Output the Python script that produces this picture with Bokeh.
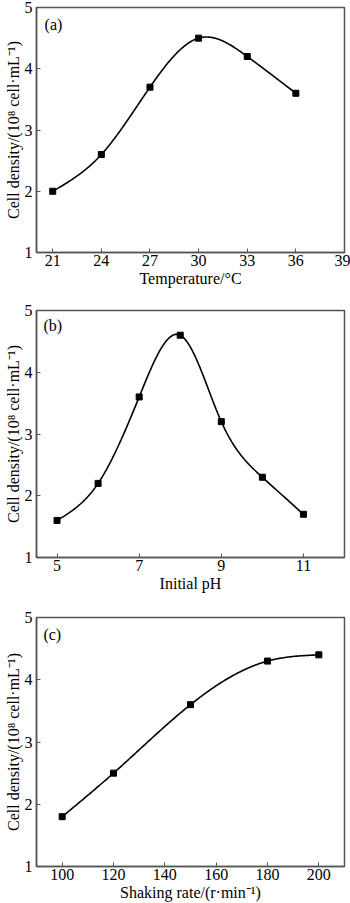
import numpy as np
from bokeh.plotting import figure
from bokeh.layouts import column
from bokeh.models import Range1d, FixedTicker, Label
from bokeh.embed import file_html
from bokeh.resources import INLINE

# ---- data ----
temp_x = [21, 24, 27, 30, 33, 36]
temp_y = [2.0, 2.6, 3.7, 4.5, 4.2, 3.6]
ph_x = [5, 6, 7, 8, 9, 10, 11]
ph_y = [1.6, 2.2, 3.6, 4.6, 3.2, 2.3, 1.7]
shake_x = [100, 120, 150, 180, 200]
shake_y = [1.8, 2.5, 3.6, 4.3, 4.4]

temp_ticks = [21, 24, 27, 30, 33, 36, 39]
ph_ticks = [5, 7, 9, 11]
shake_ticks = [100, 120, 140, 160, 180, 200]
y_ticks = [1, 2, 3, 4, 5]

YLABEL = "Cell density/(10\u2078 cell\u00b7mL\u207b\u00b9)"
FONT = "Liberation Serif"
GRAY = "#555555"


def natural_spline(xs, ys, n=300):
    x = np.asarray(xs, float)
    y = np.asarray(ys, float)
    k = len(x)
    h = np.diff(x)
    A = np.zeros((k, k))
    b = np.zeros(k)
    A[0, 0] = 1
    A[-1, -1] = 1
    for i in range(1, k - 1):
        A[i, i - 1] = h[i - 1]
        A[i, i] = 2 * (h[i - 1] + h[i])
        A[i, i + 1] = h[i]
        b[i] = 6 * ((y[i + 1] - y[i]) / h[i] - (y[i] - y[i - 1]) / h[i - 1])
    M = np.linalg.solve(A, b)
    xx = np.linspace(x[0], x[-1], n)
    idx = np.clip(np.searchsorted(x, xx) - 1, 0, k - 2)
    x0, x1 = x[idx], x[idx + 1]
    hh = x1 - x0
    t0, t1 = x1 - xx, xx - x0
    yy = (M[idx] * t0 ** 3 + M[idx + 1] * t1 ** 3) / (6 * hh) \
        + (y[idx] / hh - M[idx] * hh / 6) * t0 \
        + (y[idx + 1] / hh - M[idx + 1] * hh / 6) * t1
    return xx, yy


def panel(xs, ys, xr, ticks, xlabel, tag, tagx, tagy, height, top, bottom):
    p = figure(width=350, height=height, x_range=Range1d(*xr), y_range=Range1d(1, 5),
               output_backend="svg", toolbar_location=None,
               min_border_left=36, min_border_right=6,
               min_border_top=top, min_border_bottom=bottom)
    p.grid.visible = False
    p.outline_line_color = GRAY
    p.outline_line_width = 1.5
    p.background_fill_color = "white"
    p.border_fill_color = "white"
    for ax in (p.xaxis[0], p.yaxis[0]):
        ax.axis_line_color = GRAY
        ax.axis_line_width = 1.5
        ax.major_tick_line_color = GRAY
        ax.major_tick_line_width = 1
        ax.major_tick_in = 4
        ax.major_tick_out = 0
        ax.minor_tick_line_color = None
        ax.major_label_text_font = FONT
        ax.major_label_text_font_size = "16px"
        ax.major_label_text_color = "black"
        ax.axis_label_text_font = FONT
        ax.axis_label_text_font_size = "16px"
        ax.axis_label_text_font_style = "normal"
        ax.axis_label_text_color = "black"
    p.xaxis[0].ticker = FixedTicker(ticks=ticks)
    p.yaxis[0].ticker = FixedTicker(ticks=y_ticks)
    p.xaxis[0].axis_label = xlabel
    p.yaxis[0].axis_label = YLABEL
    p.xaxis[0].major_label_standoff = 2
    p.xaxis[0].axis_label_standoff = 1
    p.yaxis[0].major_label_standoff = 4
    p.yaxis[0].axis_label_standoff = 0

    cx, cy = natural_spline(xs, ys)
    p.line(cx, cy, line_color="black", line_width=1.6)
    p.scatter(xs, ys, marker="square", size=6, fill_color="black", line_color="black")
    p.add_layout(Label(x=tagx, y=tagy, text=tag, text_font=FONT, text_font_size="16px",
                       text_baseline="top", text_color="black"))
    return p


pa = panel(temp_x, temp_y, (20, 39), temp_ticks, "Temperature/\u00b0C", "(a)", 20.5, 4.86, 292, 7, 40)
pb = panel(ph_x, ph_y, (4.5, 12), ph_ticks, "Initial pH", "(b)", 4.67, 4.89, 305, 18, 40)
pc = panel(shake_x, shake_y, (90, 210), shake_ticks, "Shaking rate/(r\u00b7min\u207b\u00b9)", "(c)", 92.7, 4.87, 306, 20, 37)

layout = column(pa, pb, pc, spacing=0)
open("out.html", "w").write(file_html(layout, INLINE))
